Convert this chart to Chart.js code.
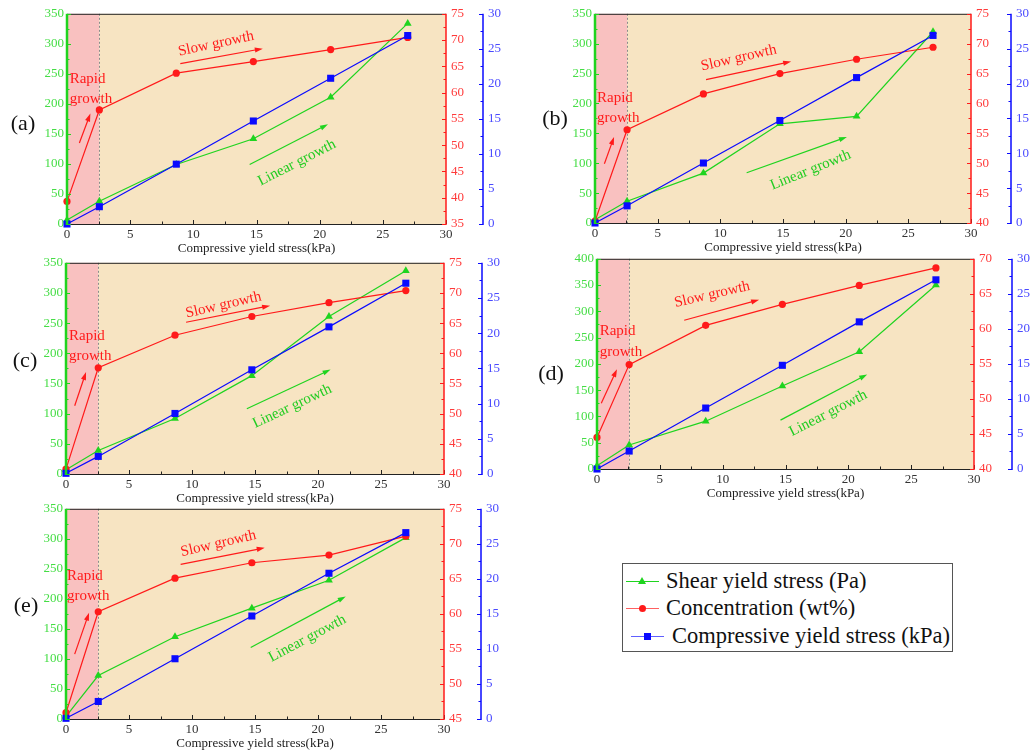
<!DOCTYPE html>
<html lang="en">
<head>
<meta charset="UTF-8">
<title>Shear yield stress, concentration and compressive yield stress</title>
<style>
    body {
        margin: 0;
        background: #fff;
        overflow: hidden;
        width: 1032px;
        height: 753px;
        position: relative;
        font-family: "Liberation Serif", "Times New Roman", serif;
    }
    canvas.panel { position: absolute; }

    #legend {
        position: absolute;
        left: 622px;
        top: 563px;
        width: 331px;
        height: 89px;
        border: 1px solid #555;
        box-sizing: border-box;
        background: #fff;
    }
    .row {
        position: absolute;
        height: 24px;
        line-height: 24px;
        font-size: 22.5px;
        color: #111;
        white-space: nowrap;
    }
    .sym { position: absolute; top: 12px; height: 1px; width: 33px; }
    .mark { position: absolute; }
    .tri {
        width: 0; height: 0;
        border-left: 4px solid transparent;
        border-right: 4px solid transparent;
        border-bottom: 7px solid #1fd41f;
        left: 12px; top: -4px;
    }
    .dot { width: 7px; height: 7px; border-radius: 50%; background: #ff1a1a; left: 13px; top: -3px; }
    .sq { width: 7px; height: 7px; background: #0a0aff; left: 13px; top: -3px; }
</style>
</head>
<body>
<canvas class="panel" id="pa"></canvas>
<canvas class="panel" id="pb"></canvas>
<canvas class="panel" id="pc"></canvas>
<canvas class="panel" id="pd"></canvas>
<canvas class="panel" id="pe"></canvas>

<div id="legend">
    <div class="row" style="left:3px; top:5px;">
        <div class="sym" style="background:#1fd41f;"><div class="mark tri"></div></div>
        <span style="position:absolute; left:40px;">Shear yield stress (Pa)</span>
    </div>
    <div class="row" style="left:3px; top:32px;">
        <div class="sym" style="background:#ff6060;"><div class="mark dot"></div></div>
        <span style="position:absolute; left:40px;">Concentration (wt%)</span>
    </div>
    <div class="row" style="left:8px; top:60px;">
        <div class="sym" style="background:#6060ff;"><div class="mark sq"></div></div>
        <span style="position:absolute; left:41px;">Compressive yield stress (kPa)</span>
    </div>
</div>

<script src="https://cdn.jsdelivr.net/npm/chart.js"></script>
<script>
    // sampling points, compressive yield stress (kPa) on the x axis
    const stressX = [0, 2.56, 8.65, 14.75, 20.87, 26.97];
    const rapidEnd = 2.56;      // end of the rapid growth zone

    // (a)
    const shearA = [6.6, 38, 99, 142, 211, 334];
    const concA  = [39.3, 56.7, 63.7, 65.9, 68.2, 70.5];
    const compA  = [0, 2.47, 8.54, 14.7, 20.8, 26.9];
    // (b)
    const shearB = [5.5, 36.5, 83.5, 166, 178.5, 320];
    const concB  = [40.3, 55.6, 61.6, 65.0, 67.4, 69.4];
    const compB  = [0, 2.46, 8.6, 14.7, 20.85, 26.9];
    // (c)
    const shearC = [7, 39, 92, 163, 261, 337];
    const concC  = [40.8, 57.6, 63.0, 66.1, 68.4, 70.4];
    const compC  = [0.1, 2.5, 8.6, 14.8, 20.9, 27.1];
    // (d)
    const shearD = [6.3, 45.6, 91, 158, 223, 350];
    const concD  = [44.5, 54.9, 60.5, 63.5, 66.2, 68.7];
    const compD  = [0, 2.56, 8.7, 14.8, 21.0, 27.0];
    // (e)
    const shearE = [4.4, 72.4, 137, 184.6, 231, 302];
    const concE  = [45.9, 60.3, 65.1, 67.3, 68.4, 71.1];
    const compE  = [0.1, 2.5, 8.6, 14.7, 20.8, 26.6];

    // axis ranges per panel: [shear max, concentration min, concentration max]
    const axisA = [350, 35, 75];
    const axisB = [350, 40, 75];
    const axisC = [350, 40, 75];
    const axisD = [400, 40, 70];
    const axisE = [350, 45, 75];

    const FONT = '"Liberation Serif", "Times New Roman", serif';
    const GREEN = '#1fd41f', RED = '#ff1a1a', BLUE = '#0a0aff';

    // layout of each panel; note positions are in (kPa, Pa) units of the panel
    const panels = [
        { el: 'pa', tag: '(a)', left: 1, top: 0, pad: 13, w: 379, h: 211, redW: 36, blueW: 22,
          shear: shearA, conc: concA, comp: compA, axis: axisA, letter: [-44, 110],
          rapid: [0.13, 241, 207.6], rapidArrow: [0.98, 135, 1.85, 184],
          slow: [11.8, 300, -12], slowArrow: [8.97, 267, 15.5, 292],
          linear: [18.2, 102, -27], linearArrow: [14.46, 99, 20.66, 166] },
        { el: 'pb', tag: '(b)', left: 529, top: 0, pad: 12, w: 376, h: 211, redW: 39, blueW: 22,
          shear: shearB, conc: concB, comp: compB, axis: axisB, letter: [-40, 105],
          rapid: [0.08, 209, 176], rapidArrow: [0.75, 99, 1.52, 144],
          slow: [11.47, 276, -13], slowArrow: [8.86, 240, 15.65, 270],
          linear: [17.2, 88.5, -22], linearArrow: [12.1, 84, 20.1, 144] },
        { el: 'pc', tag: '(c)', left: 0, top: 249, pad: 13, w: 378, h: 212, redW: 37, blueW: 22,
          shear: shearC, conc: concC, comp: compC, axis: axisC, letter: [-41, 98],
          rapid: [0.16, 228, 196], rapidArrow: [0.69, 113, 1.59, 169],
          slow: [12.5, 280, -13], slowArrow: [9.53, 251.5, 16.2, 279],
          linear: [17.95, 112, -25], linearArrow: [14.35, 108, 21.0, 173] },
        { el: 'pd', tag: '(d)', left: 531, top: 245, pad: 13, w: 377, h: 211, redW: 37, blueW: 21,
          shear: shearD, conc: concD, comp: compD, axis: axisD, letter: [-46, 115],
          rapid: [0.13, 262, 223], rapidArrow: [0.34, 125, 1.59, 190],
          slow: [9.16, 332, -13], slowArrow: [6.94, 283, 12.9, 322],
          linear: [18.4, 106, -27], linearArrow: [14.6, 93, 21.5, 180] },
        { el: 'pe', tag: '(e)', left: 0, top: 495, pad: 13, w: 378, h: 211, redW: 36, blueW: 22,
          shear: shearE, conc: concE, comp: compE, axis: axisE, letter: [-40, 97],
          rapid: [0.0, 238, 204.5], rapidArrow: [0.69, 108, 1.83, 177],
          slow: [12.1, 292, -13], slowArrow: [9.1, 257.6, 15.77, 285],
          linear: [19.15, 134, -28], linearArrow: [14.66, 119, 22.2, 204] }
    ];

    function arrow(ctx, x1, y1, x2, y2, color) {
        const ang = Math.atan2(y2 - y1, x2 - x1);
        ctx.strokeStyle = color;
        ctx.fillStyle = color;
        ctx.lineWidth = 1.2;
        ctx.beginPath();
        ctx.moveTo(x1, y1);
        ctx.lineTo(x2 - 5 * Math.cos(ang), y2 - 5 * Math.sin(ang));
        ctx.stroke();
        ctx.beginPath();
        ctx.moveTo(x2, y2);
        ctx.lineTo(x2 - 8 * Math.cos(ang) + 2.6 * Math.sin(ang), y2 - 8 * Math.sin(ang) - 2.6 * Math.cos(ang));
        ctx.lineTo(x2 - 8 * Math.cos(ang) - 2.6 * Math.sin(ang), y2 - 8 * Math.sin(ang) + 2.6 * Math.cos(ang));
        ctx.closePath();
        ctx.fill();
    }

    // short ticks pointing into the plot, with one minor tick between majors
    function ticksIn(ctx, scale, edge, dir, vertical, color) {
        const vals = scale.ticks.map(t => t.value);
        const step = vals[1] - vals[0];
        ctx.strokeStyle = color;
        ctx.lineWidth = 1;
        ctx.beginPath();
        vals.forEach((v, i) => {
            const list = [[v, 4]];
            if (i < vals.length - 1) list.push([v + step / 2, 2.5]);
            list.forEach(([val, len]) => {
                const p = Math.round(scale.getPixelForValue(val)) + 0.5;
                if (vertical) { ctx.moveTo(edge, p); ctx.lineTo(edge + dir * len, p); }
                else { ctx.moveTo(p, edge); ctx.lineTo(p, edge + dir * len); }
            });
        });
        ctx.stroke();
    }

    const panelDeco = {
        id: 'panelDeco',
        beforeDatasetsDraw(chart) {
            const p = chart.config.options.plugins.panelDeco;
            const { ctx, chartArea: a, scales } = chart;
            const sx = scales.x, sy = scales.y;
            const split = sx.getPixelForValue(rapidEnd);
            ctx.save();
            ctx.fillStyle = '#f9c1c0';
            ctx.fillRect(a.left, a.top, split - a.left, a.bottom - a.top);
            ctx.fillStyle = '#f7e4c2';
            ctx.fillRect(split, a.top, a.right - split, a.bottom - a.top);
            ctx.strokeStyle = '#8a8a8a';
            ctx.lineWidth = 1;
            ctx.setLineDash([2, 2]);
            ctx.beginPath();
            ctx.moveTo(Math.round(split) + 0.5, a.top);
            ctx.lineTo(Math.round(split) + 0.5, a.bottom);
            ctx.stroke();
            ctx.setLineDash([]);

            const X = v => sx.getPixelForValue(v), Y = v => sy.getPixelForValue(v);
            ctx.font = '15px ' + FONT;
            ctx.textBaseline = 'middle';

            // rapid growth
            ctx.fillStyle = RED;
            ctx.textAlign = 'left';
            ctx.fillText('Rapid', X(p.rapid[0]) + 1, Y(p.rapid[1]));
            ctx.fillText('growth', X(p.rapid[0]) + 1, Y(p.rapid[2]));
            const ra = p.rapidArrow;
            arrow(ctx, X(ra[0]), Y(ra[1]), X(ra[2]), Y(ra[3]), RED);

            // slow growth
            const sa = p.slowArrow;
            arrow(ctx, X(sa[0]), Y(sa[1]), X(sa[2]), Y(sa[3]), RED);
            ctx.save();
            ctx.translate(X(p.slow[0]), Y(p.slow[1]));
            ctx.rotate(p.slow[2] * Math.PI / 180);
            ctx.textAlign = 'center';
            ctx.fillStyle = RED;
            ctx.fillText('Slow growth', 0, 0);
            ctx.restore();

            // linear growth
            const la = p.linearArrow;
            arrow(ctx, X(la[0]), Y(la[1]), X(la[2]), Y(la[3]), GREEN);
            ctx.save();
            ctx.translate(X(p.linear[0]), Y(p.linear[1]));
            ctx.rotate(p.linear[2] * Math.PI / 180);
            ctx.textAlign = 'center';
            ctx.fillStyle = '#22cc22';
            ctx.fillText('Linear growth', 0, 0);
            ctx.restore();
            ctx.restore();
        },
        afterDatasetsDraw(chart) {
            const p = chart.config.options.plugins.panelDeco;
            const { ctx, chartArea: a, scales } = chart;
            ctx.save();
            // frame
            ctx.strokeStyle = '#222';
            ctx.lineWidth = 1;
            ctx.beginPath();
            ctx.moveTo(a.left, a.top + 0.5); ctx.lineTo(a.right, a.top + 0.5);
            ctx.moveTo(a.left, a.bottom + 0.5); ctx.lineTo(a.right, a.bottom + 0.5);
            ctx.stroke();
            ticksIn(ctx, scales.x, a.bottom, -1, false, '#222');

            ctx.strokeStyle = GREEN;
            ctx.lineWidth = 2.5;
            ctx.beginPath();
            ctx.moveTo(a.left, a.top); ctx.lineTo(a.left, a.bottom + 1);
            ctx.stroke();
            ticksIn(ctx, scales.y, a.left, 1, true, GREEN);

            ctx.strokeStyle = RED;
            ctx.lineWidth = 1.5;
            ctx.beginPath();
            ctx.moveTo(a.right, a.top); ctx.lineTo(a.right, a.bottom + 1);
            ctx.stroke();
            ticksIn(ctx, scales.y1, a.right, -1, true, RED);

            const bx = scales.y2.left + 1;
            ctx.strokeStyle = BLUE;
            ctx.lineWidth = 1.5;
            ctx.beginPath();
            ctx.moveTo(bx, a.top); ctx.lineTo(bx, a.bottom + 1);
            ctx.stroke();
            ticksIn(ctx, scales.y2, bx, -1, true, BLUE);

            // panel letter
            ctx.fillStyle = '#111';
            ctx.font = '22px ' + FONT;
            ctx.textAlign = 'center';
            ctx.textBaseline = 'middle';
            ctx.fillText(p.tag, a.left + p.letter[0], a.top + p.letter[1]);
            ctx.restore();
        }
    };

    Chart.defaults.font.family = FONT;
    Chart.defaults.font.size = 13;

    function points(ys) {
        return stressX.map((x, i) => ({ x: x, y: ys[i] }));
    }

    panels.forEach(p => {
        const cv = document.getElementById(p.el);
        const cw = 66 + p.w + p.redW + p.blueW;
        const ch = p.pad + p.h + 34;
        cv.width = cw;
        cv.height = ch;
        cv.style.left = p.left + 'px';
        cv.style.top = p.top + 'px';

        new Chart(cv, {
            type: 'line',
            data: {
                datasets: [
                    { label: 'Compressive yield stress (kPa)', data: points(p.comp), yAxisID: 'y2', order: 1,
                      borderColor: BLUE, backgroundColor: BLUE, borderWidth: 1.2,
                      pointStyle: 'rect', pointRadius: 5, pointBorderWidth: 0, clip: false },
                    { label: 'Concentration (wt%)', data: points(p.conc), yAxisID: 'y1', order: 2,
                      borderColor: RED, backgroundColor: RED, borderWidth: 1.2,
                      pointStyle: 'circle', pointRadius: 3.6, pointBorderWidth: 0, clip: false },
                    { label: 'Shear yield stress (Pa)', data: points(p.shear), yAxisID: 'y', order: 3,
                      borderColor: GREEN, backgroundColor: GREEN, borderWidth: 1.2,
                      pointStyle: 'triangle', pointRadius: 4.5, pointBorderWidth: 0, clip: false }
                ]
            },
            options: {
                responsive: false,
                animation: false,
                layout: { padding: { top: p.pad, left: 0, right: 0, bottom: 0 } },
                scales: {
                    x: {
                        type: 'linear', min: 0, max: 30,
                        ticks: { stepSize: 5, color: '#333', padding: 3 },
                        grid: { display: false, drawTicks: false },
                        border: { display: false },
                        title: { display: true, text: 'Compressive yield stress(kPa)', color: '#222',
                                 font: { size: 13 }, padding: { top: 0, bottom: 2 } },
                        afterFit: s => { s.height = 34; }
                    },
                    y: {
                        position: 'left', min: 0, max: p.axis[0],
                        ticks: { stepSize: 50, color: '#45dd45', padding: 3 },
                        grid: { display: false, drawTicks: false },
                        border: { display: false },
                        afterFit: s => { s.width = 66; }
                    },
                    y1: {
                        position: 'right', weight: 0, min: p.axis[1], max: p.axis[2],
                        ticks: { stepSize: 5, color: '#ff3a3a', padding: 5 },
                        grid: { display: false, drawTicks: false },
                        border: { display: false },
                        afterFit: s => { s.width = p.redW; }
                    },
                    y2: {
                        position: 'right', weight: 1, min: 0, max: 30,
                        ticks: { stepSize: 5, color: '#4a4aff', padding: 6 },
                        grid: { display: false, drawTicks: false },
                        border: { display: false },
                        afterFit: s => { s.width = p.blueW; }
                    }
                },
                plugins: {
                    legend: { display: false },
                    tooltip: { enabled: false },
                    panelDeco: p
                }
            },
            plugins: [panelDeco]
        });
    });
</script>
</body>
</html>
